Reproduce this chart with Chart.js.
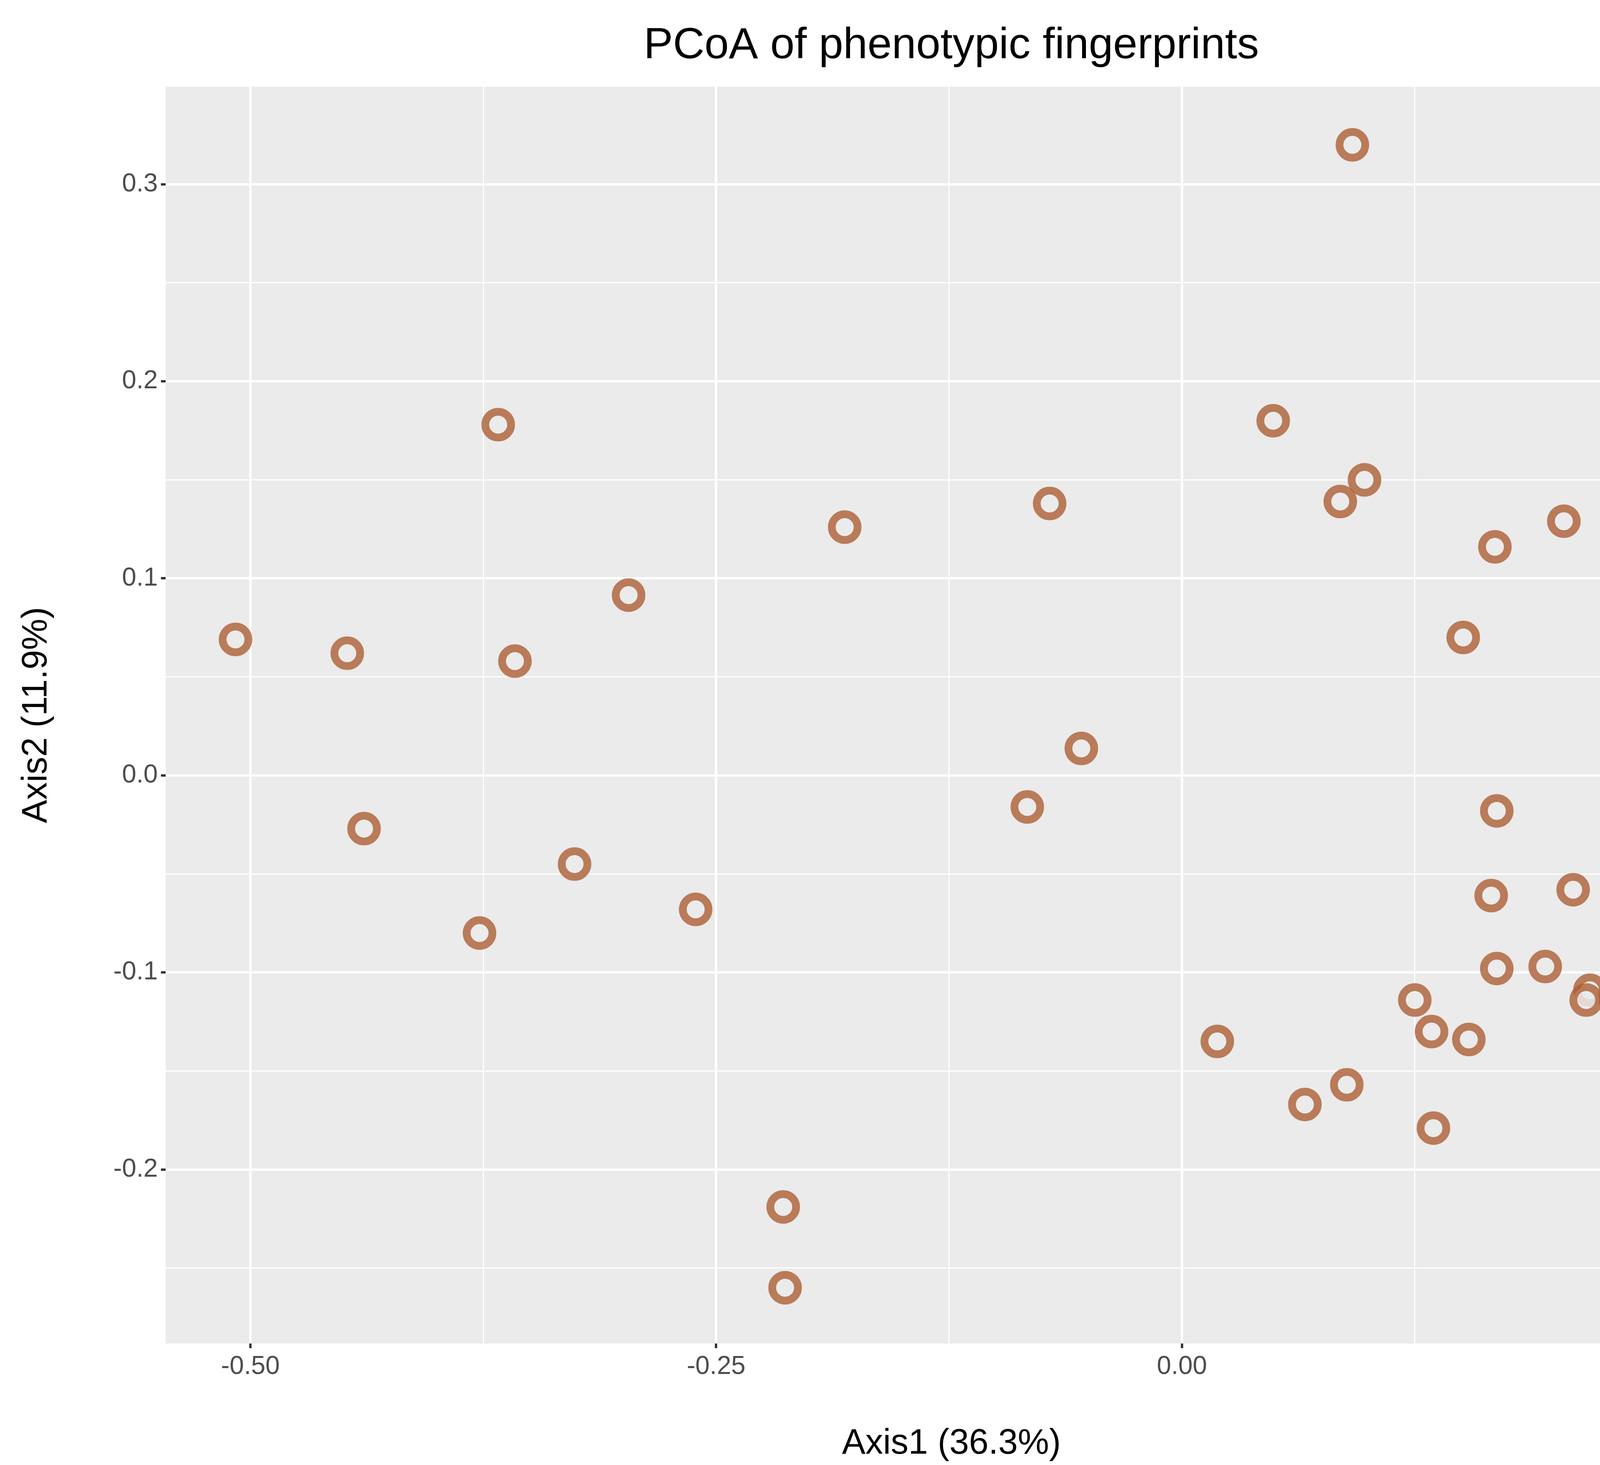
<!DOCTYPE html>
<html><head><meta charset="utf-8">
<script src="https://cdn.jsdelivr.net/npm/chart.js@4.4.0/dist/chart.umd.min.js"></script>
<style>html,body{margin:0;padding:0;background:#fff;overflow:hidden}canvas{display:block;width:4500px;height:3750px}</style>
</head><body><canvas id="c" width="4500" height="3750"></canvas>
<script>
const chartTitle = "PCoA of phenotypic fingerprints";
const xTitle = "Axis1 (36.3%)";
const yTitle = "Axis2 (11.9%)";
const axis1 = [0.0915,0.261,0.259,-0.367,0.049,0.098,0.085,-0.071,-0.181,0.205,0.253,0.168,-0.297,-0.508,-0.448,-0.358,0.151,0.257,-0.054,-0.083,0.169,-0.439,-0.326,-0.377,-0.261,0.166,0.210,0.235,0.169,0.195,0.219,0.217,0.125,0.134,0.154,0.019,0.0885,0.066,0.135,-0.214,-0.213];
const axis2 = [0.320,0.205,0.194,0.178,0.180,0.150,0.139,0.138,0.126,0.129,0.136,0.116,0.0915,0.069,0.062,0.058,0.070,0.027,0.0137,-0.016,-0.018,-0.027,-0.045,-0.080,-0.068,-0.061,-0.058,-0.085,-0.098,-0.097,-0.109,-0.114,-0.114,-0.130,-0.134,-0.135,-0.157,-0.167,-0.179,-0.219,-0.260];
const xTicks = [-0.5,-0.375,-0.25,-0.125,0,0.125,0.25];
const xMajor = [-0.5,-0.25,0,0.25];
const yTicks = [-0.25,-0.2,-0.15,-0.1,-0.05,0,0.05,0.1,0.15,0.2,0.25,0.3];
const yMajor = [-0.2,-0.1,0,0.1,0.2,0.3];

const isMaj = (v, arr) => arr.some(m => Math.abs(m - v) < 1e-9);
const bg = {id:'bg', beforeDraw(ch){const a=ch.chartArea,c=ch.ctx;c.save();c.fillStyle='#EBEBEB';c.fillRect(a.left,a.top,a.right-a.left,a.bottom-a.top);c.restore();},
 afterDraw(ch){const c=ch.ctx,a=ch.chartArea;c.save();c.fillStyle='#000';c.font='112px "Liberation Sans", Arial, sans-serif';c.textAlign='center';c.textBaseline='middle';c.fillText(chartTitle,(a.left+a.right)/2,118);c.restore();}};

function scaleOpts(ticks, major, fmt, titleText){
  return {
    afterBuildTicks(s){ s.ticks = ticks.map(v=>({value:v})); },
    grid:{color:'#FFFFFF', lineWidth:ctx=>isMaj(ctx.tick.value,major)?6:3,
      tickColor:ctx=>isMaj(ctx.tick.value,major)?'#333333':'rgba(0,0,0,0)', tickLength:12, tickWidth:6, drawTicks:true},
    border:{display:false},
    ticks:{color:'#4D4D4D', font:{size:66, family:'"Liberation Sans", Arial, sans-serif'}, padding:8,
      autoSkip:false, maxRotation:0, callback:v=>isMaj(v,major)?fmt(v):''},
    title:{display:true,text:titleText,color:'#000',font:{size:90,family:'"Liberation Sans", Arial, sans-serif'}}
  };
}
const xs = scaleOpts(xTicks,xMajor,v=>v.toFixed(2),xTitle);
Object.assign(xs,{type:'linear',min:-0.5455,max:0.298,afterFit(s){s.height=311;}});
xs.title.padding={top:0,bottom:0};
const ys = scaleOpts(yTicks,yMajor,v=>v.toFixed(1),yTitle);
Object.assign(ys,{type:'linear',min:-0.2883,max:0.3495,afterFit(s){s.width=424;}});
ys.title.padding={top:40,bottom:10};

new Chart(document.getElementById('c'),{
  type:'scatter',
  data:{datasets:[{data:axis1.map((x,i)=>({x,y:axis2[i]})),
    pointRadius:33,pointHoverRadius:33,borderWidth:20,
    borderColor:'rgba(173,95,52,0.8)',backgroundColor:'rgba(235,235,235,0.85)'}]},
  options:{responsive:false,maintainAspectRatio:false,animation:false,devicePixelRatio:1,
    layout:{padding:{top:222,right:34,left:0,bottom:0}},
    plugins:{legend:{display:false},tooltip:{enabled:false}},
    scales:{x:xs,y:ys}},
  plugins:[bg]
});
</script></body></html>
